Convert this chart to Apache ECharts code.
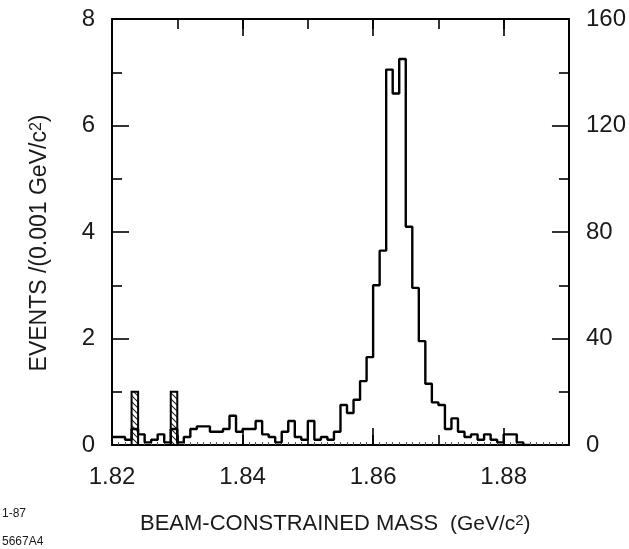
<!DOCTYPE html>
<html><head><meta charset="utf-8">
<script src="https://cdn.jsdelivr.net/npm/echarts/dist/echarts.min.js"></script>
<style>html,body{margin:0;padding:0;background:#fff}#c{width:629px;height:549px}</style>
</head><body><div id="c"></div>
<script>
// ---- data ----
const binStart = 1.820;          // GeV/c^2, left edge of first bin
const binWidth = 0.001;          // GeV/c^2
// events per bin (right axis scale, 0-160)
const counts = [3,3,3,2,6,4,1,2,4,1,6,1,3,6,7,7,5,5,6,11,5,6,6,9,4,3,1,5,9,3,2,9,2,3,2,5,
  15,12,17,24,33,60,73,141,132,145,82,59,39,23,16,15,6,10,5,3,4,2,4,2,1,4,4,1];
// hatched bins (left axis scale, 0-8): left edges and heights
const hatchedLeft = [1.823, 1.829];
const hatchedValues = [1, 1];
const xLabels = ['1.82','1.84','1.86','1.88'];
const leftLabels = ['0','2','4','6','8'];
const rightLabels = ['0','40','80','120','160'];

// ---- build ----
const stepData = counts.map((c,i)=>[+(binStart+i*binWidth).toFixed(4), c]);
stepData.push([+(binStart+counts.length*binWidth).toFixed(4), 0]);
const hatchData = hatchedLeft.map((x,i)=>[x, +(x+binWidth).toFixed(4), hatchedValues[i]]);

const pc = document.createElement('canvas');
pc.width = 6; pc.height = 6;
const g = pc.getContext('2d');
g.strokeStyle = '#222'; g.lineWidth = 1.1;
g.beginPath(); g.moveTo(0,0); g.lineTo(6,6); g.moveTo(-3,3); g.lineTo(3,9); g.moveTo(3,-3); g.lineTo(9,3); g.stroke();

const FONT = 'Liberation Sans';
const TXT = '#1a1a1a';
const LW = 2;
const X0 = 1.82, X1 = 1.89;

function xAx(pos, interval, len, showLine, showLabel, minor){
  return {
    type:'value', position:pos, min:X0, max:X1, interval:interval,
    axisLine:{show:showLine, onZero:false, lineStyle:{color:'#000', width:LW}},
    axisTick:{show:true, inside:true, length:len, lineStyle:{color:'#000', width:1.6}},
    minorTick: minor ? {show:true, splitNumber:10, length:3, lineStyle:{color:'#555', width:1}} : {show:false},
    splitLine:{show:false},
    axisLabel:{show:showLabel, fontFamily:FONT, fontSize:24, color:TXT, margin:20,
      formatter:function(v){ const s=v.toFixed(2); return xLabels.indexOf(s)>=0 ? s : ''; }}
  };
}
function yAx(pos, max, interval, labels){
  return {
    type:'value', position:pos, min:0, max:max, interval:interval,
    axisLine:{show:true, lineStyle:{color:'#000', width:LW}},
    axisTick:{show:true, inside:true, length:17, lineStyle:{color:'#000', width:1.6}},
    minorTick:{show:true, splitNumber:2, length:10, lineStyle:{color:'#000', width:1.6}},
    splitLine:{show:false},
    axisLabel:{fontFamily:FONT, fontSize:24, color:TXT, margin:17,
      formatter:function(v){ const s=String(Math.round(v)); return labels.indexOf(s)>=0 ? s : ''; }}
  };
}

const chart = echarts.init(document.getElementById('c'), null, {renderer:'canvas'});
chart.setOption({
  animation:false,
  backgroundColor:'#fff',
  grid:{left:112, right:58, top:19, bottom:104, containLabel:false},
  xAxis:[
    xAx('bottom', 0.01, 10, true, true, true),
    xAx('bottom', 0.02, 17, false, false, false),
    xAx('top', 0.01, 10, true, false, false),
    xAx('top', 0.02, 17, false, false, false)
  ],
  yAxis:[ yAx('left', 8, 2, leftLabels), yAx('right', 160, 40, rightLabels) ],
  graphic:[
    {type:'text', x:40, y:243, rotation:Math.PI/2,
     style:{text:'{a|EVENTS /(0.001 GeV/c}{s|2}{a|)}', align:'center', verticalAlign:'middle',
       rich:{a:{fontFamily:FONT, fontSize:23, fill:TXT}, s:{fontFamily:FONT, fontSize:16, fill:TXT, verticalAlign:'top'}}}},
    {type:'text', left:140, top:513,
     style:{text:'{a|BEAM-CONSTRAINED MASS}{b|  (GeV/c}{s|2}{b|)}',
       rich:{a:{fontFamily:FONT, fontSize:22, fill:TXT}, b:{fontFamily:FONT, fontSize:21, fill:TXT}, s:{fontFamily:FONT, fontSize:15, fill:TXT, verticalAlign:'top'}}}},
    {type:'text', left:2, top:508, style:{text:'1-87', fontFamily:FONT, fontSize:12, fill:TXT}},
    {type:'text', left:2, top:536, style:{text:'5667A4', fontFamily:FONT, fontSize:12, fill:TXT}}
  ],
  series:[
    {type:'custom', xAxisIndex:0, yAxisIndex:0, z:2, data:hatchData,
     renderItem:function(params, api){
       const p0 = api.coord([api.value(0), 0]);
       const p1 = api.coord([api.value(1), api.value(2)]);
       return {type:'rect', shape:{x:p0[0], y:p1[1], width:p1[0]-p0[0], height:p0[1]-p1[1]},
         style:{fill:{image:pc, repeat:'repeat'}, stroke:'#000', lineWidth:2}};
     }},
    {type:'line', xAxisIndex:0, yAxisIndex:1, z:3, step:'start', symbol:'none', data:stepData,
     lineStyle:{color:'#000', width:2.4}}
  ]
});
</script></body></html>
